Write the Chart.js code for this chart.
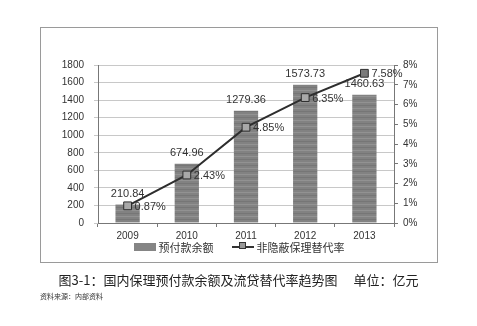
<!DOCTYPE html>
<html>
<head>
<meta charset="utf-8">
<script src="https://cdn.jsdelivr.net/npm/chart.js@4"></script>
<style>
  body { margin: 0; background: #fff; width: 477px; height: 326px; position: relative; overflow: hidden; }
  #box { position: absolute; left: 40px; top: 27px; width: 396px; height: 234px; border: 1px solid #9a9a9a; }
  #wrap { position: absolute; left: 0; top: 0; width: 396px; height: 234px; }
  #legend { position: absolute; left: 0; width: 396px; top: 209px; text-align: center; font: 11px "Noto Sans CJK SC", sans-serif; color: #333; }
  #legend span { display: inline-block; vertical-align: middle; }
  .sw-bar { width: 22px; height: 8px; background: #858585; margin-right: 3px; }
  .sw-line { position: relative; width: 22px; height: 2px; background: #333; margin: 0 3px 0 18px; }
  .sw-line i { position: absolute; left: 7px; top: -4px; width: 7px; height: 7px; background: #999; border: 1px solid #333; box-sizing: border-box; }
  #caption { position: absolute; left: 0; width: 477px; top: 270px; text-align: center; font: 13px "Noto Sans CJK SC", serif; color: #222; white-space: pre; }
  #source { position: absolute; left: 40px; top: 291px; font: 7px "Noto Sans CJK SC", serif; color: #333; }
</style>
</head>
<body>
<div id="box">
  <div id="wrap"><canvas id="chart"></canvas></div>
  <div id="legend"><span class="sw-bar"></span><span>预付款余额</span><span class="sw-line"><i></i></span><span>非隐蔽保理替代率</span></div>
</div>
<div id="caption">图3-1：国内保理预付款余额及流贷替代率趋势图　 单位：亿元</div>
<div id="source">资料来源：内部资料</div>
<script>
// Chart data
const years = ["2009", "2010", "2011", "2012", "2013"];
const balance = [210.84, 674.96, 1279.36, 1573.73, 1460.63];
const rate = [0.87, 2.43, 4.85, 6.35, 7.58];

// striped grey fill for the bars (scanned look)
function barPattern() {
  const c = document.createElement("canvas");
  c.width = 4; c.height = 6;
  const g = c.getContext("2d");
  g.fillStyle = "#828282";
  g.fillRect(0, 0, 4, 6);
  g.fillStyle = "#929292";
  g.fillRect(0, 2, 4, 1);
  g.fillStyle = "#767676";
  g.fillRect(0, 5, 4, 1);
  return g.createPattern(c, "repeat");
}

const labelPlugin = {
  id: "valueLabels",
  afterDatasetsDraw(chart) {
    const ctx = chart.ctx;
    ctx.save();
    ctx.font = "11px 'Liberation Sans', sans-serif";
    ctx.fillStyle = "#333";
    ctx.textBaseline = "middle";
    chart.getDatasetMeta(0).data.forEach((bar, i) => {
      ctx.textAlign = "center";
      ctx.fillText(balance[i].toFixed(2), bar.x, bar.y - 11);
    });
    chart.getDatasetMeta(1).data.forEach((pt, i) => {
      ctx.textAlign = "left";
      ctx.fillText(rate[i].toFixed(2) + "%", pt.x + 7, pt.y + 1);
    });
    ctx.restore();
  }
};

Chart.defaults.font.family = "'Liberation Sans', sans-serif";
Chart.defaults.font.size = 10;
Chart.defaults.color = "#333";

new Chart(document.getElementById("chart"), {
  type: "bar",
  data: {
    labels: years,
    datasets: [{
      type: "bar",
      label: "预付款余额",
      data: balance,
      backgroundColor: barPattern(),
      barPercentage: 0.41,
      categoryPercentage: 1,
      yAxisID: "y",
      order: 2
    }, {
      type: "line",
      label: "非隐蔽保理替代率",
      data: rate,
      borderColor: "#2e2e2e",
      borderWidth: 2,
      pointStyle: "rect",
      pointRadius: 5.5,
      pointBackgroundColor: ["#a8a8a8", "#a8a8a8", "#a8a8a8", "#a8a8a8", "#7a7a7a"],
      pointBorderColor: "#2e2e2e",
      pointBorderWidth: 1,
      tension: 0,
      yAxisID: "y1",
      order: 1
    }]
  },
  options: {
    responsive: true,
    maintainAspectRatio: false,
    animation: false,
    layout: { padding: { top: 37, bottom: 17, left: 0, right: 0 } },
    plugins: { legend: { display: false }, tooltip: { enabled: false } },
    scales: {
      x: {
        grid: { display: true, drawOnChartArea: false, color: "#777", tickLength: 4, offset: true },
        border: { color: "#777" },
        ticks: { padding: 3 }
      },
      y: {
        min: 0, max: 1800,
        ticks: { stepSize: 200, padding: 10, callback: v => String(v) },
        grid: { color: "#c8c8c8", tickLength: 4 },
        border: { color: "#777" },
        afterFit(s) { s.width = 57; }
      },
      y1: {
        position: "right",
        min: 0, max: 8,
        ticks: { stepSize: 1, padding: 5, callback: v => v + "%" },
        grid: { drawOnChartArea: false, color: "#777", tickLength: 4 },
        border: { color: "#777" },
        afterFit(s) { s.width = 43; }
      }
    }
  },
  plugins: [labelPlugin]
});
</script>
</body>
</html>
